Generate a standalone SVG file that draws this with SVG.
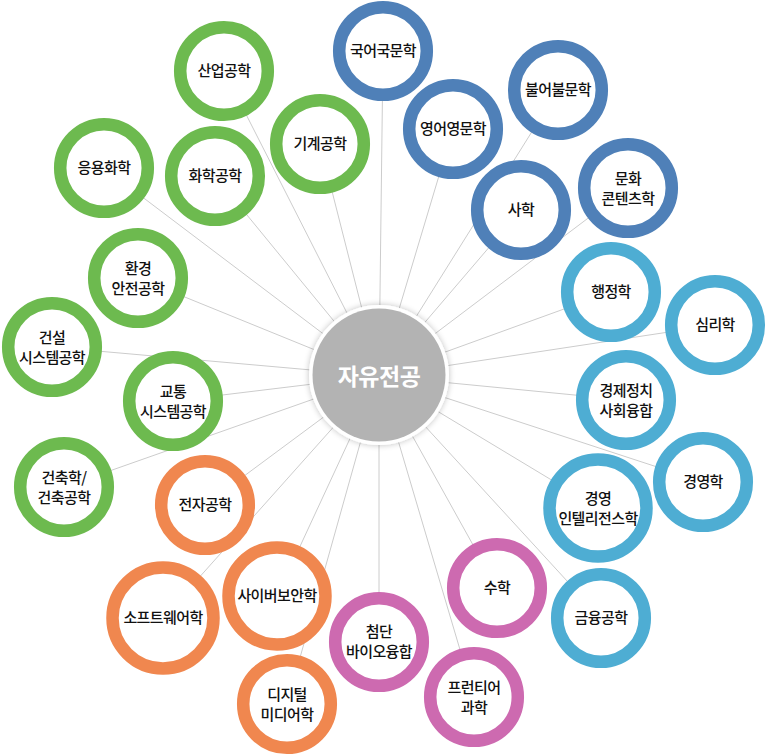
<svg xmlns="http://www.w3.org/2000/svg" width="767" height="756" viewBox="0 0 767 756">
<defs>
<style>
.ring{fill:#fff;stroke-width:12.5}
.g{stroke:#6dba4f}.b{stroke:#4f80b8}.c{stroke:#4eadd3}.o{stroke:#f0874f}.m{stroke:#cd6ab0}
.t{font-family:"Noto Sans CJK KR","Noto Sans",sans-serif;font-size:15px;fill:#111;text-anchor:middle;font-weight:500;letter-spacing:-0.6px}
.ct{font-family:"Noto Sans CJK KR","Noto Sans",sans-serif;font-size:23px;fill:#fff;text-anchor:middle;font-weight:700;letter-spacing:-0.5px}
#links line{stroke:#cccccc;stroke-width:1}
</style>
<filter id="sh" x="-20%" y="-20%" width="140%" height="140%">
<feGaussianBlur in="SourceAlpha" stdDeviation="3"/>
<feComponentTransfer><feFuncA type="linear" slope="0.25"/></feComponentTransfer>
<feMerge><feMergeNode/><feMergeNode in="SourceGraphic"/></feMerge>
</filter>
</defs>
<rect width="767" height="756" fill="#fff"/>
<g id="links">
<line x1="379" y1="376" x2="224" y2="71"/>
<line x1="379" y1="376" x2="320" y2="144"/>
<line x1="379" y1="376" x2="104" y2="168"/>
<line x1="379" y1="376" x2="215" y2="176"/>
<line x1="379" y1="376" x2="138" y2="278"/>
<line x1="379" y1="376" x2="52" y2="347"/>
<line x1="379" y1="376" x2="173" y2="401"/>
<line x1="379" y1="376" x2="64" y2="487"/>
<line x1="379" y1="376" x2="383" y2="51"/>
<line x1="379" y1="376" x2="453" y2="129"/>
<line x1="379" y1="376" x2="558" y2="90"/>
<line x1="379" y1="376" x2="521" y2="210"/>
<line x1="379" y1="376" x2="628" y2="188"/>
<line x1="379" y1="376" x2="611" y2="292"/>
<line x1="379" y1="376" x2="715" y2="325"/>
<line x1="379" y1="376" x2="626" y2="400"/>
<line x1="379" y1="376" x2="703" y2="482"/>
<line x1="379" y1="376" x2="598" y2="508"/>
<line x1="379" y1="376" x2="601" y2="618"/>
<line x1="379" y1="376" x2="497" y2="588"/>
<line x1="379" y1="376" x2="379" y2="642"/>
<line x1="379" y1="376" x2="474" y2="697"/>
<line x1="379" y1="376" x2="205" y2="505"/>
<line x1="379" y1="376" x2="163" y2="618"/>
<line x1="379" y1="376" x2="277" y2="596"/>
<line x1="379" y1="376" x2="287" y2="704"/>
</g>
<g id="n-center">
<circle cx="379" cy="375" r="70" fill="#fff" filter="url(#sh)"/>
<circle cx="379" cy="375" r="66.5" fill="#b3b3b3"/>
<text class="ct" x="379" y="385">자유전공</text>
</g>
<g id="n1"><circle class="ring g" cx="224" cy="71" r="43.8"/><text class="t" x="224" y="76">산업공학</text></g>
<g id="n2"><circle class="ring g" cx="320" cy="144" r="43.8"/><text class="t" x="320" y="149">기계공학</text></g>
<g id="n3"><circle class="ring g" cx="104" cy="168" r="43.8"/><text class="t" x="104" y="173">응용화학</text></g>
<g id="n4"><circle class="ring g" cx="215" cy="176" r="43.8"/><text class="t" x="215" y="181">화학공학</text></g>
<g id="n5"><circle class="ring g" cx="138" cy="278" r="43.8"/><text class="t" x="138" y="274">환경</text><text class="t" x="138" y="294">안전공학</text></g>
<g id="n6"><circle class="ring g" cx="52" cy="347" r="43.8"/><text class="t" x="52" y="343">건설</text><text class="t" x="52" y="363">시스템공학</text></g>
<g id="n7"><circle class="ring g" cx="173" cy="401" r="43.8"/><text class="t" x="173" y="397">교통</text><text class="t" x="173" y="417">시스템공학</text></g>
<g id="n8"><circle class="ring g" cx="64" cy="487" r="43.8"/><text class="t" x="64" y="483">건축학/</text><text class="t" x="64" y="503">건축공학</text></g>
<g id="n9"><circle class="ring b" cx="383" cy="51" r="43.8"/><text class="t" x="383" y="56">국어국문학</text></g>
<g id="n10"><circle class="ring b" cx="453" cy="129" r="43.8"/><text class="t" x="453" y="134">영어영문학</text></g>
<g id="n11"><circle class="ring b" cx="558" cy="90" r="43.8"/><text class="t" x="558" y="95">불어불문학</text></g>
<g id="n12"><circle class="ring b" cx="521" cy="210" r="43.8"/><text class="t" x="521" y="215">사학</text></g>
<g id="n13"><circle class="ring b" cx="628" cy="188" r="43.8"/><text class="t" x="628" y="184">문화</text><text class="t" x="628" y="204">콘텐츠학</text></g>
<g id="n14"><circle class="ring c" cx="611" cy="292" r="43.8"/><text class="t" x="611" y="297">행정학</text></g>
<g id="n15"><circle class="ring c" cx="715" cy="325" r="43.8"/><text class="t" x="715" y="330">심리학</text></g>
<g id="n16"><circle class="ring c" cx="626" cy="400" r="43.8"/><text class="t" x="626" y="396">경제정치</text><text class="t" x="626" y="416">사회융합</text></g>
<g id="n17"><circle class="ring c" cx="703" cy="482" r="43.8"/><text class="t" x="703" y="487">경영학</text></g>
<g id="n18"><circle class="ring c" cx="598" cy="508" r="48.5" stroke-width="13"/><text class="t" x="598" y="504">경영</text><text class="t" x="598" y="524">인텔리전스학</text></g>
<g id="n19"><circle class="ring c" cx="601" cy="618" r="43.8"/><text class="t" x="601" y="623">금융공학</text></g>
<g id="n20"><circle class="ring m" cx="497" cy="588" r="43.8"/><text class="t" x="497" y="593">수학</text></g>
<g id="n21"><circle class="ring m" cx="379" cy="642" r="43.8"/><text class="t" x="379" y="637">첨단</text><text class="t" x="379" y="657">바이오융합</text></g>
<g id="n22"><circle class="ring m" cx="474" cy="697" r="43.8"/><text class="t" x="474" y="693">프런티어</text><text class="t" x="474" y="713">과학</text></g>
<g id="n23"><circle class="ring o" cx="205" cy="505" r="43.8"/><text class="t" x="205" y="510">전자공학</text></g>
<g id="n24"><circle class="ring o" cx="163" cy="618" r="50.5" stroke-width="13"/><text class="t" x="163" y="623">소프트웨어학</text></g>
<g id="n25"><circle class="ring o" cx="277" cy="596" r="48.5" stroke-width="13"/><text class="t" x="277" y="601">사이버보안학</text></g>
<g id="n26"><circle class="ring o" cx="287" cy="704" r="43.8"/><text class="t" x="287" y="700">디지털</text><text class="t" x="287" y="720">미디어학</text></g>
</svg>
